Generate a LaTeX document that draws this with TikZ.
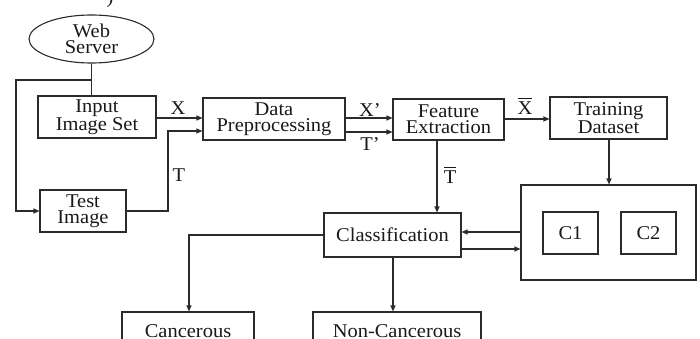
\documentclass[tikz,border=0pt]{standalone}
\usepackage{fontspec}
\setmainfont{Liberation Serif}[FakeStretch=1.05]
\usetikzlibrary{shapes.geometric,arrows.meta}
\definecolor{linec}{HTML}{2B2B2B}
\begin{document}
\begin{tikzpicture}[x=1pt,y=-1pt,
  txt/.style={font=\fontsize{19.5}{16}\selectfont, text=black!90},
  box/.style={txt, draw=linec, line width=1.1pt, inner sep=0pt, align=center, rectangle},
  conn/.style={draw=linec, line width=1.1pt},
  arr/.style={conn, -{Triangle[length=6pt,width=5pt]}},
  lbl/.style={txt, inner sep=0pt}]
\useasboundingbox (0,0) rectangle (700,339);
\clip (0,0) rectangle (700,339);
% cut-off fragment at the top
\node[txt, inner sep=0pt, anchor=south] (frag) at (110,8) {)};
% nodes
\node[box, ellipse, minimum width=125pt, minimum height=48pt] (web) at (91.5,39) {Web\\Server};
\node[box, minimum width=118pt, minimum height=42pt] (input) at (97,117) {Input\\Image Set};
\node[box, minimum width=142pt, minimum height=42pt] (dp) at (274,119) {Data\\Preprocessing};
\node[box, minimum width=111pt, minimum height=41pt] (fe) at (448.5,119.5) {Feature\\Extraction};
\node[box, minimum width=117pt, minimum height=42pt] (td) at (608.5,118) {Training\\Dataset};
\node[box, minimum width=86pt, minimum height=42pt] (test) at (83,211) {Test\\Image};
\node[box, minimum width=137pt, minimum height=44pt] (cls) at (392.5,235) {Classification};
\node[box, minimum width=175pt, minimum height=95pt] (big) at (608.5,232.5) {};
\node[box, minimum width=55pt, minimum height=42pt] (c1) at (570.5,233) {C1};
\node[box, minimum width=55pt, minimum height=42pt] (c2) at (648.5,233) {C2};
\node[box, minimum width=132pt, minimum height=38pt] (canc) at (188,331) {Cancerous};
\node[box, minimum width=168pt, minimum height=38pt] (ncanc) at (397,331) {Non-Cancerous};
% helper coordinates
\coordinate (j1) at (91.5,80);
\coordinate (lft) at (16,80);
\coordinate (tv) at (168,211);
\coordinate (cl) at (189,235);
% connectors
\draw[conn] (web.south) -- (web.south |- input.north);
\draw[arr] (j1) -- (lft) |- (test.west);
\draw[arr] (input.east |- 0,118) -- (dp.west |- 0,118);
\draw[arr] (test.east) -- (tv) |- (dp.west |- 0,131);
\draw[arr] (dp.east |- 0,118) -- (fe.west |- 0,118);
\draw[arr] (dp.east |- 0,132) -- (fe.west |- 0,132);
\draw[arr] (fe.east |- 0,119) -- (td.west |- 0,119);
\draw[arr] (fe.south -| 437,0) -- (cls.north -| 437,0);
\draw[arr] (td.south -| 609,0) -- (big.north -| 609,0);
\draw[arr] (big.west |- 0,232) -- (cls.east |- 0,232);
\draw[arr] (cls.east |- 0,249) -- (big.west |- 0,249);
\draw[arr] (cls.west |- 0,235) -- (cl) -- (cl |- canc.north);
\draw[arr] (cls.south -| 393,0) -- (ncanc.north -| 393,0);
% labels
\node[lbl] (lx) at (178,108) {X};
\node[lbl] (lt) at (179,175) {T};
\node[lbl] (lxp) at (370,110) {X’};
\node[lbl] (ltp) at (370,144) {T’};
\node[lbl] (lxb) at (525,106) {$\overline{\mbox{\rule{0pt}{15.5pt}X}}$};
\node[lbl] (ltb) at (450,175) {$\overline{\mbox{\rule{0pt}{15.5pt}T}}$};
\end{tikzpicture}
\end{document}
